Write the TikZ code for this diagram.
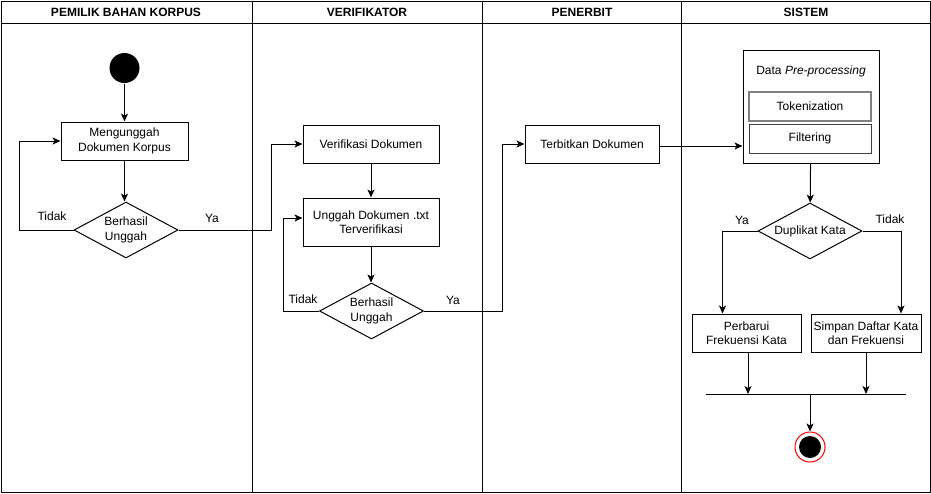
\documentclass[tikz,border=0pt]{standalone}
\usepackage{fontspec}
\setmainfont{Liberation Sans}
\usetikzlibrary{arrows.meta,shapes.geometric}
\begin{document}
\begin{tikzpicture}[x=1pt,y=-1pt,line width=1pt,
    txt/.style={font=\fontsize{12}{14.4}\selectfont,align=center,inner sep=0pt},
    head/.style={font=\fontsize{12}{14.4}\selectfont\bfseries,inner sep=0pt},
    act/.style={txt,draw,fill=white},
    cond/.style={txt,draw,diamond,aspect=1.86,minimum width=104pt,minimum height=56pt},
    arr/.style={-{Stealth[length=8pt,width=7pt,inset=2pt]}}]
        \useasboundingbox (0,0) rectangle (931,493);
        \draw (1,1) rectangle (930,492);
        \draw (1,23) -- (930,23);
        \draw (252,1) -- (252,492);
        \draw (482,1) -- (482,492);
        \draw (681,1) -- (681,492);
        \node[head] (h1) at (126,12) {PEMILIK BAHAN KORPUS};
        \node[head] (h2) at (367,12) {VERIFIKATOR};
        \node[head] (h3) at (582,12) {PENERBIT};
        \node[head] (h4) at (806,12) {SISTEM};
        \node[circle,fill=black,minimum size=30pt,inner sep=0pt] (start) at (124.5,68) {};
        \node[act,minimum width=127pt,minimum height=38pt] (upload) at (124.5,141) {Mengunggah\\Dokumen Korpus};
        \node[cond] (dec1) at (126,230) {Berhasil\\Unggah};
        \node[act,minimum width=136pt,minimum height=38pt] (verif) at (371,144) {Verifikasi Dokumen};
        \node[act,minimum width=136pt,minimum height=48pt] (unggah) at (371,222) {Unggah Dokumen .txt\\Terverifikasi};
        \node[cond] (dec2) at (371.5,311) {Berhasil\\Unggah};
        \node[act,minimum width=134pt,minimum height=38pt] (terbit) at (592,144) {Terbitkan Dokumen};
        \node[act,minimum width=136pt,minimum height=113pt] (prep) at (811,106.5) {};
        \node[txt] (preptitle) at (811,71) {Data \textit{Pre-processing}};
        \node[act,draw=gray,line width=1.5pt,minimum width=122pt,minimum height=29pt] (token) at (810,106.5) {Tokenization};
        \node[act,draw=black!75,minimum width=122pt,minimum height=29pt] (filter) at (810,138.5) {Filtering};
        \node[cond] (dup) at (810,231) {Duplikat Kata};
        \node[act,minimum width=109pt,minimum height=38pt] (perbarui) at (746.5,333) {Perbarui\\Frekuensi Kata};
        \node[act,minimum width=110pt,minimum height=38pt] (simpan) at (866,333) {Simpan Daftar Kata\\dan Frekuensi};
        \coordinate (barL) at (706,394);
        \coordinate (barR) at (906,394);
        \coordinate (barM) at (810,394);
        \node[circle,draw=red,fill=white,minimum size=30pt,inner sep=0pt] (stop) at (810,447) {};
        \node[circle,fill=black,minimum size=22pt,inner sep=0pt] (stopin) at (stop) {};
        \draw[arr] (start) -- (upload);
        \draw[arr] (upload.south) -- (upload.south |- dec1.north);
        \draw[arr] (dec1.west) -- ++(-54,0) |- (upload.west);
        \draw[arr] (dec1.east) -- ++(93,0) |- (verif.west);
        \draw[arr] (verif) -- (unggah);
        \draw[arr] (unggah.south) -- (unggah.south |- dec2.north);
        \draw[arr] (dec2.west) -- ++(-36,0) |- ([yshift=4pt]unggah.west);
        \draw[arr] (dec2.east) -- ++(78,0) |- (terbit.west);
        \draw[arr] ([yshift=-2pt]terbit.east) -- ([yshift=-2pt]terbit.east -| prep.west);
        \draw[arr] (prep) -- (dup);
        \draw[arr] (dup.west) -| ([xshift=-24pt]perbarui.north);
        \draw[arr] (dup.east) -| ([xshift=35pt]simpan.north);
        \draw (barL) -- (barR);
        \draw[arr] ([xshift=1.5pt]perbarui.south) -- ([xshift=1.5pt]perbarui.south |- barL);
        \draw[arr] (simpan.south) -- (simpan.south |- barL);
        \draw[arr] (barM) -- (stop);
        \node[txt] (t1) at (52,216) {Tidak};
        \node[txt] (y1) at (212,218) {Ya};
        \node[txt] (t2) at (303,299) {Tidak};
        \node[txt] (y2) at (453,300) {Ya};
        \node[txt] (y3) at (742,220) {Ya};
        \node[txt] (t3) at (890,219) {Tidak};
    \end{tikzpicture}
\end{document}
